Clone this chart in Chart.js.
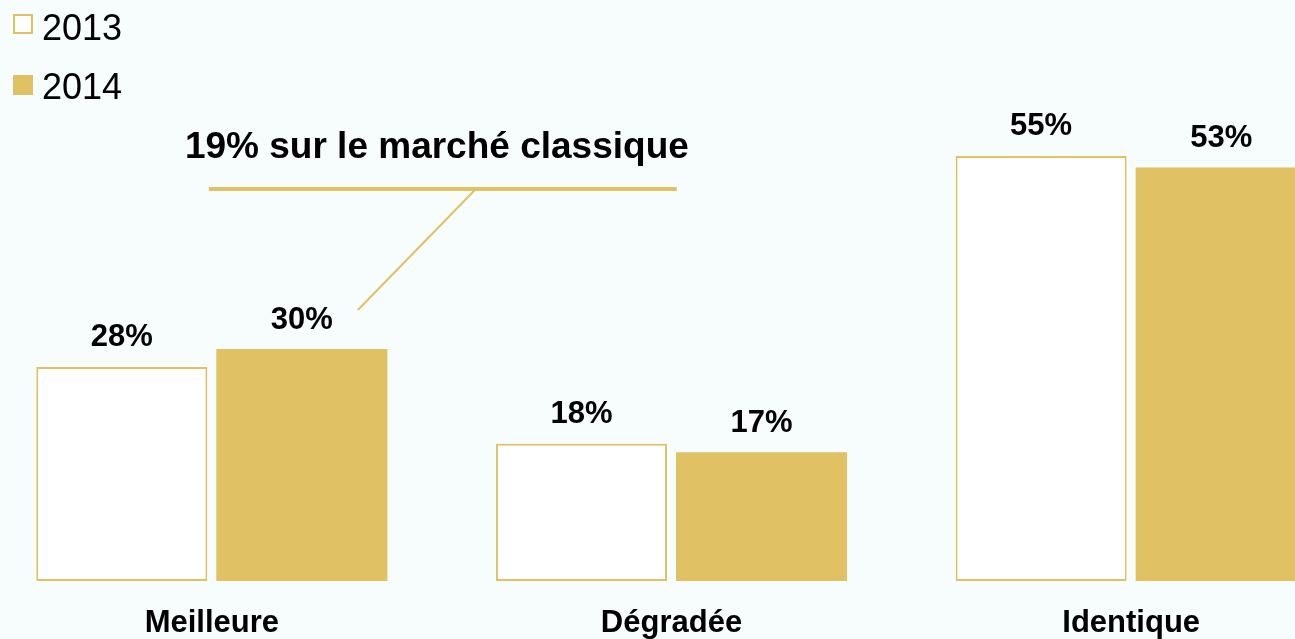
<!DOCTYPE html>
<html>
<head>
<meta charset="utf-8">
<script src="https://cdn.jsdelivr.net/npm/chart.js@4.4.0/dist/chart.umd.min.js"></script>
<style>
html, body { margin: 0; padding: 0; background: #f7fcfc; overflow: hidden; }
#wrap { position: absolute; left: -18px; top: 0; width: 1379px; height: 639px; }
</style>
</head>
<body>
<div id="wrap"><canvas id="myChart"></canvas></div>
<script>
const categories = ['Meilleure', 'Dégradée', 'Identique'];
const seriesNames = ['2013', '2014'];
// bar heights; labels are the rounded values
const values2013 = [27.6, 17.7, 54.8];
const values2014 = [29.9, 16.6, 53.3];
const calloutText = '19% sur le marché classique';

const gold = '#e0c264';
const FONT = '"Liberation Sans", Arial, sans-serif';
const shift = 18; // canvas sits 18px left of the page

// value labels, legend and the callout
const extras = {
    id: 'extras',
    afterDatasetsDraw(chart) {
        const ctx = chart.ctx;
        ctx.save();
        ctx.fillStyle = '#000';
        ctx.textAlign = 'center';
        ctx.textBaseline = 'middle';
        ctx.font = 'bold 31px ' + FONT;
        chart.data.datasets.forEach(function (ds, i) {
            chart.getDatasetMeta(i).data.forEach(function (bar, j) {
                ctx.fillText(Math.round(ds.data[j]) + '%', bar.x, bar.y - 29);
            });
        });

        // legend (top left)
        ctx.textAlign = 'left';
        ctx.font = '36px ' + FONT;
        const legendY = [24, 85];
        chart.data.datasets.forEach(function (ds, i) {
            const y = legendY[i];
            ctx.fillStyle = ds.backgroundColor;
            ctx.fillRect(shift + 13, y - 10, 20, 20);
            if (ds.borderWidth) {
                ctx.strokeStyle = ds.borderColor;
                ctx.lineWidth = 2;
                ctx.strokeRect(shift + 14, y - 9, 18, 18);
            }
            ctx.fillStyle = '#000';
            ctx.fillText(ds.label, shift + 42, y + (i === 0 ? 6 : 4));
        });

        // callout tied to the 2014 "Meilleure" bar
        const bar = chart.getDatasetMeta(1).data[0];
        ctx.strokeStyle = gold;
        ctx.lineWidth = 4;
        ctx.beginPath();
        ctx.moveTo(bar.x - 93, bar.y - 160);
        ctx.lineTo(bar.x + 375, bar.y - 160);
        ctx.stroke();
        ctx.lineWidth = 2;
        ctx.beginPath();
        ctx.moveTo(bar.x + 173, bar.y - 159);
        ctx.lineTo(bar.x + 56, bar.y - 39);
        ctx.stroke();
        ctx.fillStyle = '#000';
        ctx.textAlign = 'center';
        ctx.font = 'bold 37px ' + FONT;
        ctx.fillText(calloutText, bar.x + 135, bar.y - 201);
        ctx.restore();
    }
};

const ctx = document.getElementById('myChart');
const myChart = new Chart(ctx, {
    type: 'bar',
    data: {
        labels: categories,
        datasets: [{
            label: seriesNames[0],
            data: values2013,
            backgroundColor: '#ffffff',
            borderColor: gold,
            borderWidth: 2,
            borderSkipped: false
        }, {
            label: seriesNames[1],
            data: values2014,
            backgroundColor: gold,
            borderWidth: 0
        }]
    },
    options: {
        responsive: true,
        maintainAspectRatio: false,
        animation: false,
        categoryPercentage: 0.7834,
        barPercentage: 0.95,
        layout: { padding: { top: 38, left: 0, right: 0, bottom: 0 } },
        plugins: {
            legend: { display: false },
            tooltip: { enabled: false }
        },
        scales: {
            x: {
                grid: { display: false, drawTicks: false },
                border: { display: false },
                ticks: {
                    color: '#000',
                    padding: 24,
                    font: { family: FONT, size: 31, weight: 'bold' }
                },
                afterFit: function (scale) { scale.height = 58; }
            },
            y: {
                display: false,
                min: 0,
                max: 70
            }
        }
    },
    plugins: [extras]
});
</script>
</body>
</html>
